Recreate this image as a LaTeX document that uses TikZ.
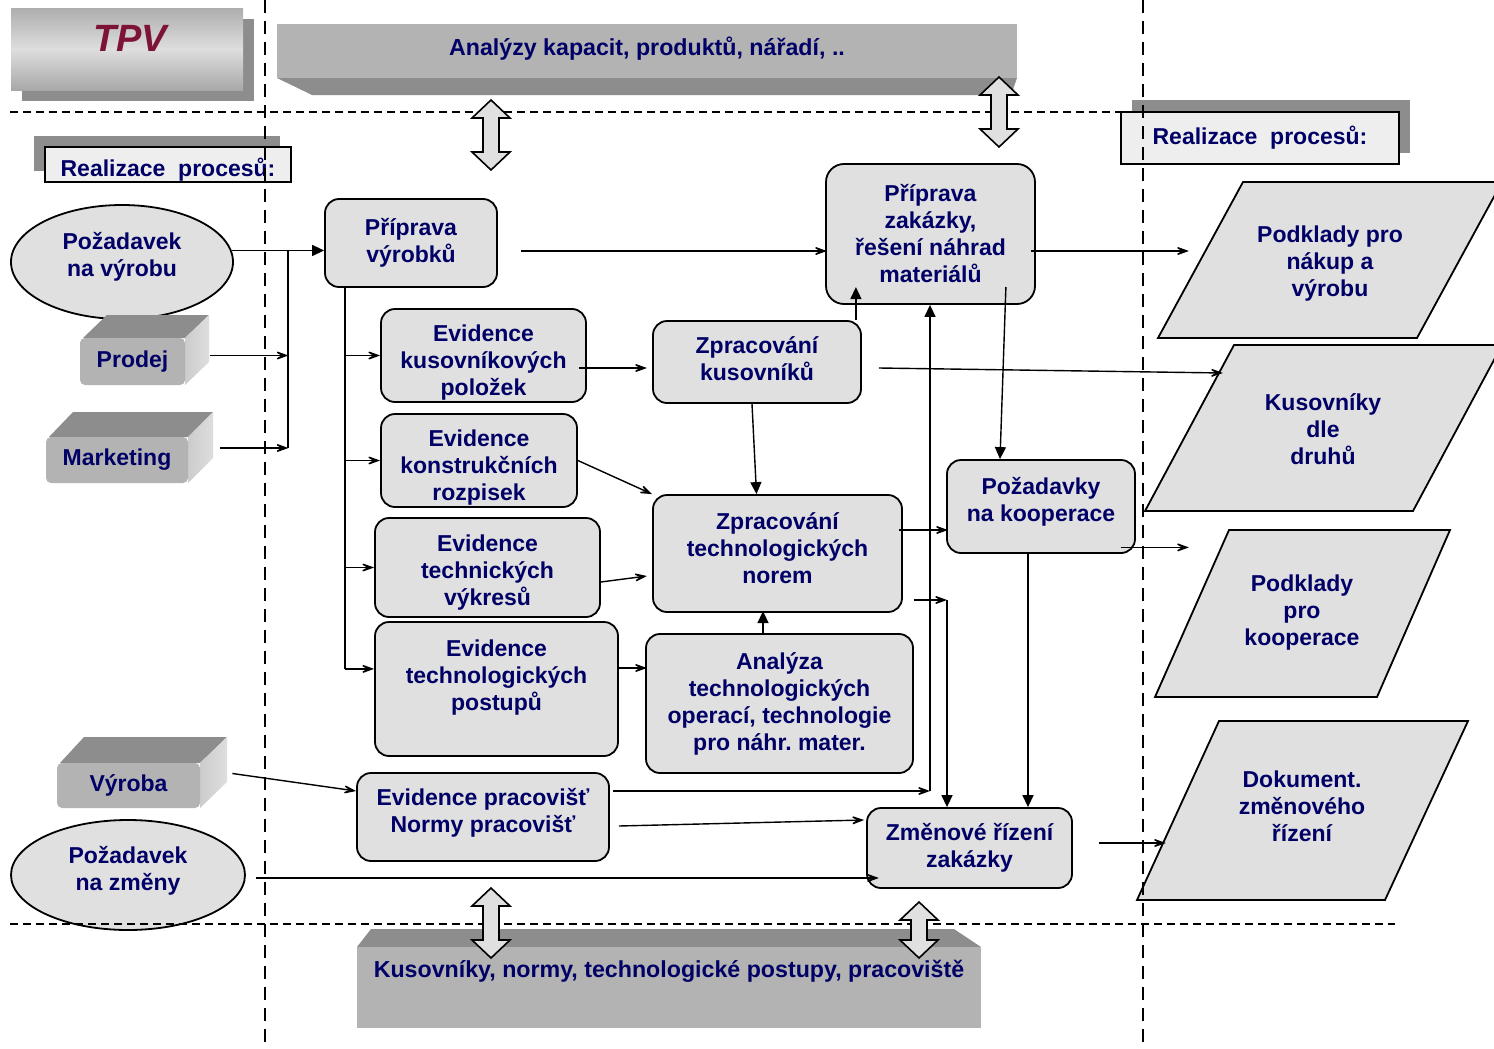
\documentclass[tikz,border=0pt]{standalone}
\usepackage{fontspec}
\setmainfont{Liberation Sans}
\usetikzlibrary{arrows.meta,shapes.geometric}

\definecolor{navy}{RGB}{0,0,102}
\definecolor{boxgray}{RGB}{224,224,224}
\definecolor{facegray}{RGB}{179,179,179}
\definecolor{topgray}{RGB}{141,141,141}
\definecolor{labelgray}{RGB}{238,238,238}
\definecolor{tpvred}{RGB}{125,20,55}

\tikzset{
  txt/.style={font=\fontsize{11.5}{13.5}\selectfont\bfseries, text=navy, align=center},
  procbox/.style={txt, draw, line width=0.9pt, fill=boxgray, rounded corners=7pt, inner sep=0pt},
  request/.style={txt, draw, ellipse, line width=0.9pt, fill=boxgray, inner sep=0pt},
  blockface/.style={txt, fill=facegray, rounded corners=2.5pt, inner sep=0pt},
  blockside/.style={left color=black!20, right color=black!13},
  databox/.style={draw, line width=0.9pt, fill=boxgray},
  label/.style={draw, line width=0.9pt, fill=labelgray, inner sep=0pt, text=navy,
    font=\fontsize{11.5}{13}\selectfont\bfseries},
  layer/.style={txt, font=\fontsize{11.6}{13}\selectfont\bfseries},
  barb/.style={-{Stealth[length=9pt,width=6.5pt,inset=5.5pt]}, line width=0.7pt},
  tri/.style={-{Triangle[length=6pt,width=5.5pt]}, line width=0.7pt},
  vline/.style={line width=0.9pt, dash pattern=on 6.5pt off 4pt},
  hline/.style={line width=0.9pt, dash pattern=on 4pt off 2.5pt}
}

% hollow two-headed arrow: x, top y, bottom y
\newcommand{\vlink}[3]{%
  \draw[line width=0.8pt, fill=boxgray] (#1-8,#2+18) -- (#1-19,#2+18) -- (#1,#2)
    -- (#1+19,#2+18) -- (#1+8,#2+18) -- (#1+8,#3-18) -- (#1+19,#3-18) -- (#1,#3)
    -- (#1-19,#3-18) -- (#1-8,#3-18) -- cycle;}

\begin{document}
\begin{tikzpicture}[x=0.5pt,y=-0.5pt]
  \useasboundingbox (0,0) rectangle (1494,1049);
  \fill[white] (0,0) rectangle (1494,1049);

  % title
  \fill[topgray] (22,19) rectangle (254,101);
  \shade[top color=black!32, bottom color=black!34, middle color=black!13] (11,8) rectangle (243,90);
  \node[font=\fontsize{19}{22}\selectfont\bfseries\itshape, text=tpvred] (tpv) at (130,38) {TPV};

  % shared data layers
  \fill[facegray] (277,24) rectangle (1017,78);
  \fill[topgray] (277,78) -- (1017,78) -- (1011,95) -- (312,95) -- cycle;
  \node[layer] (analyzy) at (647,49) {Analýzy kapacit, produktů, nářadí, ..};

  \fill[topgray] (371,929) -- (954,929) -- (981,947) -- (357,947) -- cycle;
  \fill[facegray] (357,947) rectangle (981,1028);
  \node[layer] (databaze) at (669,971) {Kusovníky, normy, technologické postupy, pracoviště};

  % section labels
  \fill[topgray] (34,136) rectangle (280,171);
  \node[label, minimum width=123pt, minimum height=17.5pt, text height=14pt] (realiz1) at (168,164.5) {Realizace\ \ procesů:};
  \fill[topgray] (1132,100) rectangle (1410,153);
  \node[label, minimum width=139pt, minimum height=26pt] (realiz2) at (1260,138) {Realizace\ \ procesů:};

  % inputs
  \node[request, minimum width=111pt, minimum height=57pt, text depth=7.4pt] (pozvyr) at (122,262) {Požadavek\\na výrobu};
  \node[request, minimum width=117pt, minimum height=55pt, text depth=6.4pt] (pozzmen) at (128,875) {Požadavek\\na změny};

  \fill[topgray] (83,338) -- (107,315) -- (209,315) -- (185,338) -- cycle;
  \shade[blockside] (185,338) -- (209,315) -- (209,362) -- (185,385) -- cycle;
  \node[blockface, minimum width=52.5pt, minimum height=23.5pt] (prodej) at (132.5,361.5) {Prodej};

  \fill[topgray] (49,437) -- (73,412) -- (213,412) -- (188,437) -- cycle;
  \shade[blockside] (188,437) -- (213,412) -- (213,458) -- (188,483) -- cycle;
  \node[blockface, minimum width=71pt, minimum height=23pt] (marketing) at (117,460) {Marketing};

  \fill[topgray] (60,763) -- (84,737) -- (227,737) -- (200,763) -- cycle;
  \shade[blockside] (200,763) -- (227,737) -- (227,782) -- (200,808) -- cycle;
  \node[blockface, minimum width=71.5pt, minimum height=22.5pt] (vyroba) at (128.5,785.5) {Výroba};

  % processes
  \node[procbox, minimum width=86pt, minimum height=44pt] (pripvyr) at (411,243) {Příprava\\výrobků};
  \node[procbox, minimum width=102.5pt, minimum height=46.5pt] (evkus) at (483.5,355.5) {\rule{0pt}{15.4pt}Evidence\\kusovníkových\\položek};
  \node[procbox, minimum width=98pt, minimum height=46.5pt] (evkon) at (479,460.5) {\rule{0pt}{15.4pt}Evidence\\konstrukčních\\rozpisek};
  \node[procbox, minimum width=112.5pt, minimum height=49.5pt] (evtech) at (487.5,567.5) {\rule{0pt}{13.4pt}Evidence\\technických\\výkresů};
  \node[procbox, minimum width=121.5pt, minimum height=67pt, text depth=14pt] (evpost) at (496.5,689) {Evidence\\technologických\\postupů};
  \node[procbox, minimum width=126pt, minimum height=44pt, text depth=6.4pt] (evprac) at (483,817) {Evidence pracovišť\\Normy pracovišť};
  \node[procbox, minimum width=104pt, minimum height=41pt, text depth=3pt] (zpkus) at (757,362) {Zpracování\\kusovníků};
  \node[procbox, minimum width=124.5pt, minimum height=58.5pt, text depth=5pt] (zpnorem) at (777.5,553.5) {Zpracování\\technologických\\norem};
  \node[procbox, minimum width=133.5pt, minimum height=69.5pt] (analyza) at (779.5,703.5) {Analýza\\technologických\\operací, technologie\\pro náhr.\ mater.};
  \node[procbox, minimum width=104.5pt, minimum height=70pt, rounded corners=9pt] (pripzak) at (930.5,234) {Příprava\\zakázky,\\řešení náhrad\\materiálů};
  \node[procbox, minimum width=94pt, minimum height=46.5pt, text depth=7.4pt] (kooper) at (1041,506.5) {Požadavky\\na kooperace};
  \node[procbox, minimum width=102.5pt, minimum height=40pt] (zmeny) at (969.5,848) {Změnové řízení\\zakázky};

  % outputs
  \draw[databox] (1243,182) -- (1502,182) -- (1417,338) -- (1158,338) -- cycle;
  \node[txt] (nakup) at (1330,264) {Podklady pro\\nákup a\\výrobu};
  \draw[databox] (1234,345) -- (1502,345) -- (1413,511) -- (1145,511) -- cycle;
  \node[txt] (druhy) at (1323,429) {Kusovníky\\dle\\druhů};
  \draw[databox] (1229,530) -- (1450,530) -- (1377,697) -- (1155,697) -- cycle;
  \node[txt] (podkoop) at (1302,613) {Podklady\\pro\\kooperace};
  \draw[databox] (1219,721) -- (1468,721) -- (1385,900) -- (1137,900) -- cycle;
  \node[txt] (dokument) at (1302,806) {Dokument.\\změnového\\řízení};

  % inputs into product preparation
  \coordinate (sbeh) at (288,251);
  \draw[tri] (pozvyr.6) -- (pozvyr.6 -| pripvyr.west);
  \draw[line width=0.7pt] (sbeh) -- ++(0,197);
  \draw[barb] ([shift={(25,-6)}]prodej.east) -- ++(78,0);
  \draw[barb] ([shift={(32,-12)}]marketing.east) -- ++(68,0);

  % product preparation branches
  \coordinate (kmen) at ([shift={(21,0)}]pripvyr.south west);
  \coordinate (kmenpata) at ([shift={(0,381)}]kmen);
  \draw[line width=0.7pt] (kmen) -- (kmenpata);
  \draw[barb] (kmen |- evkus.west) -- (evkus.west);
  \draw[barb] (kmen |- evkon.west) -- (evkon.west);
  \draw[barb] (kmen |- evtech.west) -- (evtech.west);
  \draw[barb] (kmenpata) -- (kmenpata -| evpost.west);
  \draw[barb] ([shift={(23,8)}]pripvyr.east) -- ++(306,0);

  % middle column
  \draw[barb] ([shift={(-8,12.5)}]evkus.east) -- ++(68,0);
  \draw[barb] (evkon.east) -- (zpnorem.north west);
  \draw[barb] ([shift={(0,14.5)}]evtech.east) -- ++(46,-6);
  \draw[barb] ([shift={(0,-21)}]evpost.east) -- ++(28,0);
  \draw[tri] ([shift={(-5,0)}]zpkus.south) -- ([shift={(-21,0)}]zpnorem.north);
  \draw[tri] ([shift={(-16.5,0)}]analyza.north) -- ++(0,-22);
  \draw[tri] ([shift={(-6,0)}]zpkus.north east) -- ++(0,-33);
  \draw[barb] ([shift={(17,6)}]zpkus.east) -- ++(344,5);

  % towards order preparation and change control
  \coordinate (ohyb1) at (930,791);
  \coordinate (ohyb2) at (947,600);
  \draw[barb] ([shift={(3,-26)}]evprac.east) -- (ohyb1);
  \draw[tri] (ohyb1) -- (ohyb1 |- pripzak.south);
  \draw[barb] ([shift={(11,46.5)}]zpnorem.east) -- (ohyb2);
  \draw[tri] (ohyb2) -- (ohyb2 |- zmeny.north);
  \draw[barb] ([shift={(-4,-23.5)}]zpnorem.east) -- ++(49,0);
  \draw[tri] ([shift={(-30,53)}]pripzak.east) -- ([shift={(-41,0)}]kooper.north);
  \draw[tri] ([shift={(-13,0)}]kooper.south) -- ([shift={(-13,0)}]kooper.south |- zmeny.north);
  \draw[barb] ([shift={(9,9)}]evprac.east) -- ([shift={(-2,-28)}]zmeny.west);
  \draw[barb] ([shift={(32,-12)}]vyroba.east) -- ([shift={(0,-26)}]evprac.west);
  \draw[barb] ([shift={(10,3)}]pozzmen.east) -- ++(623,0);

  % outputs
  \draw[barb] ([shift={(-5,17)}]pripzak.east) -- ++(158,0);
  \draw[barb] ([shift={(-15,-6.5)}]kooper.south east) -- ++(68,0);
  \draw[barb] ([shift={(26,-5)}]zmeny.east) -- ++(67,0);

  % swimlane borders
  \draw[vline] (265,0) -- (265,1049);
  \draw[vline] (1143,0) -- (1143,1049);
  \draw[hline] (10,112) -- (1121,112);
  \draw[hline] (10,924) -- (1395,924);

  % links to the data layers
  \vlink{491}{100}{170}
  \vlink{999}{77}{147}
  \vlink{491}{888}{958}
  \vlink{919}{902}{958}
\end{tikzpicture}
\end{document}
